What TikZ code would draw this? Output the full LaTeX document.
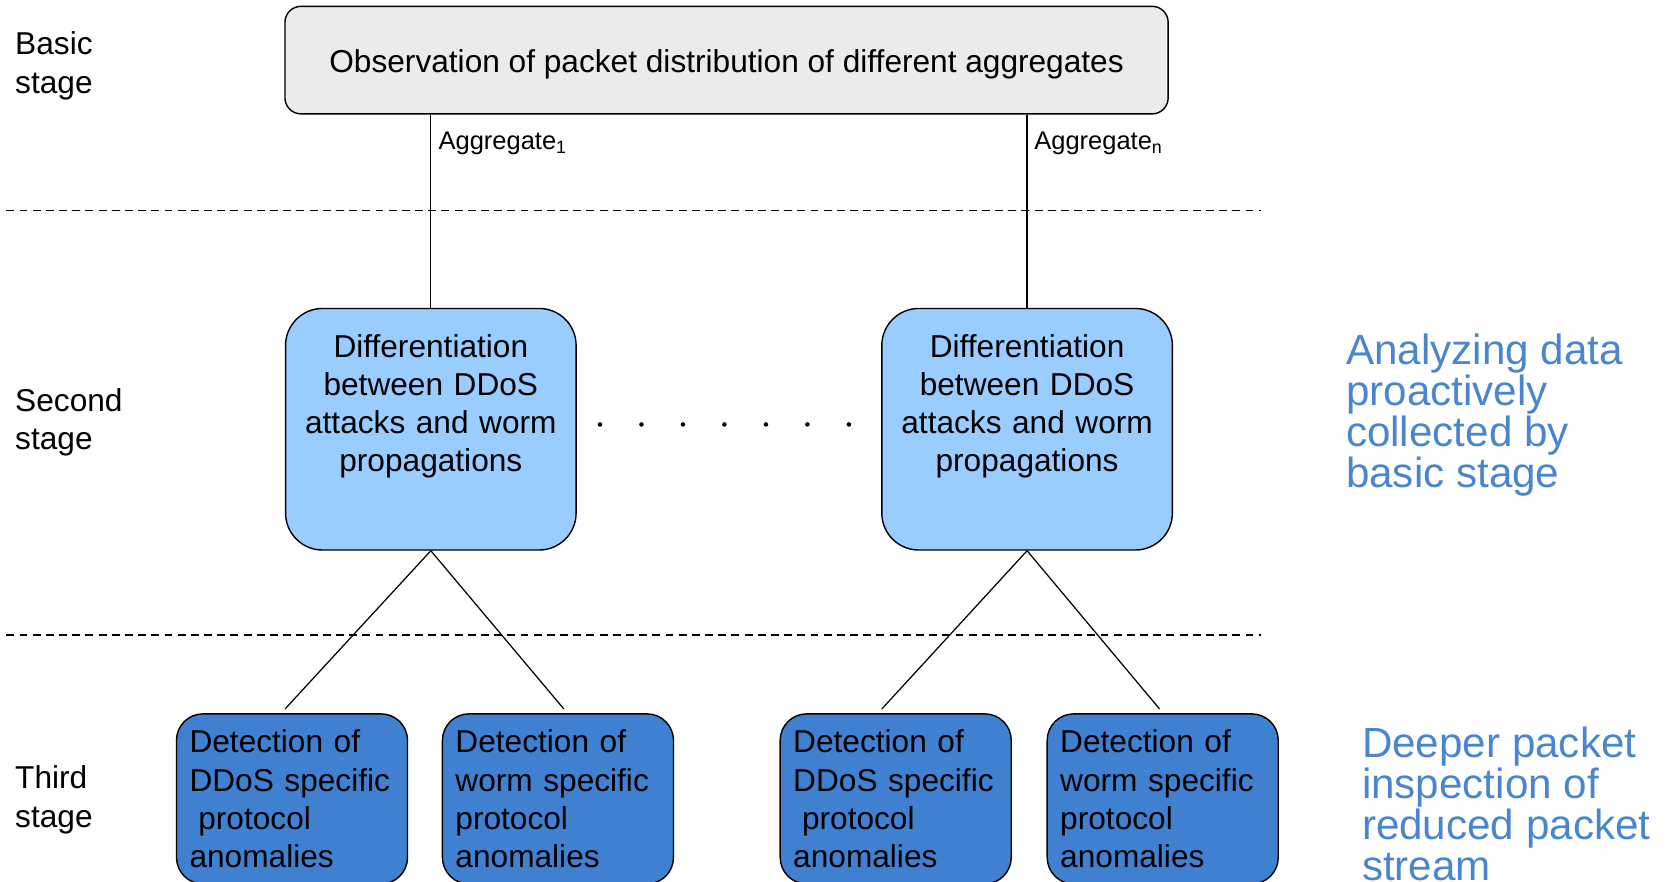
\documentclass[tikz,border=0pt]{standalone}
\usepackage{fontspec}
\setmainfont{Liberation Sans}
\usetikzlibrary{positioning,calc}
\definecolor{basegray}{HTML}{EBEBEB}
\definecolor{diffblue}{HTML}{99CCFF}
\definecolor{detblue}{HTML}{4080D0}
\definecolor{notetext}{HTML}{4A86D0}

\begin{document}
\begin{tikzpicture}[x=0.021277cm, y=-0.021277cm,
    stagebox/.style={draw=black, line width=0.8pt, fill=basegray, rounded corners=3.2mm,
      minimum width=176.6mm, minimum height=21.5mm, text height=14.1pt, text depth=0pt,
      font=\fontsize{18}{21.8}\selectfont},
    diffbox/.style={draw=black, line width=0.8pt, fill=diffblue, rounded corners=7.4mm,
      minimum width=58.1mm, minimum height=48.3mm, inner sep=0pt, text width=55mm,
      align=center, font=\fontsize{18}{21.8}\selectfont},
    detbox/.style={draw=black, line width=0.8pt, fill=detblue, rounded corners=5.3mm,
      minimum width=46.2mm, minimum height=34mm, inner xsep=7.3pt, text width=116.6pt,
      align=left, font=\fontsize{18}{21.8}\selectfont},
    stagelbl/.style={inner sep=0pt, anchor=west, align=left, font=\fontsize{18}{21.8}\selectfont},
    notelbl/.style={inner sep=0pt, anchor=west, align=left, text=notetext,
      font=\fontsize{24}{23.4}\selectfont},
    agglbl/.style={inner sep=0pt, anchor=base west, font=\fontsize{14.5}{17}\selectfont},
    link/.style={line width=0.7pt},
    sepline/.style={line width=0.7pt, dash pattern=on 4.5pt off 3pt}]
  \useasboundingbox (0,0) rectangle (1568,829);

  % stage separators
  \draw[sepline] (6,198) -- (1185,198);
  \draw[sepline] (6,597) -- (1185,597);

  % stage names
  \node[stagelbl] (basiclbl) at (14,62) {Basic\\stage};
  \node[stagelbl] (secondlbl) at (14,397) {Second\\stage};
  \node[stagelbl] (thirdlbl) at (14,752) {Third\\stage};

  % basic stage
  \node[stagebox] (obs) at (683,56.5) {Observation of packet distribution of different aggregates};

  % second stage
  \node[diffbox] (diffA) at (405,403.5) {Differentiation\\between DDoS\\attacks and worm\\propagations\par\vspace{8pt}\mbox{}};
  \node[diffbox] (diffB) at (965.5,403.5) {Differentiation\\between DDoS\\attacks and worm\\propagations\par\vspace{8pt}\mbox{}};
  \foreach \i in {0,...,6} {
    \fill (564+39*\i,399) circle[radius=1.3pt];
  }

  % third stage
  \node[detbox] (detA) at (274.5,751) {Detection of\\DDoS specific\\\hspace*{.278em}protocol\\anomalies};
  \node[detbox] (detB) at (524.5,751) {Detection of\\worm specific\\protocol\\anomalies};
  \node[detbox] (detC) at (842,751) {Detection of\\DDoS specific\\\hspace*{.278em}protocol\\anomalies};
  \node[detbox] (detD) at (1093,751) {Detection of\\worm specific\\protocol\\anomalies};

  % aggregates
  \draw[link] (diffA.north |- obs.south) -- (diffA.north);
  \draw[link] (diffB.north |- obs.south) -- (diffB.north);
  \node[agglbl] (aggA) at (412,141) {Aggregate\textsubscript{1}};
  \node[agglbl] (aggB) at (972,141) {Aggregate\textsubscript{n}};

  \draw[link] (diffA.south) -- ($(detA.north)+(-6.5,-4)$);
  \draw[link] (diffA.south) -- ($(detB.north)+(5.5,-4)$);
  \draw[link] (diffB.south) -- ($(detC.north)+(-13,-4)$);
  \draw[link] (diffB.south) -- ($(detD.north)+(-3,-4)$);

  % notes
  \node[notelbl] (noteA) at (1265,390) {Analyzing data\\proactively\\collected by\\basic stage};
  \node[notelbl] (noteB) at (1280,755.5) {Deeper packet\\inspection of\\reduced packet\\stream};
\end{tikzpicture}
\end{document}
